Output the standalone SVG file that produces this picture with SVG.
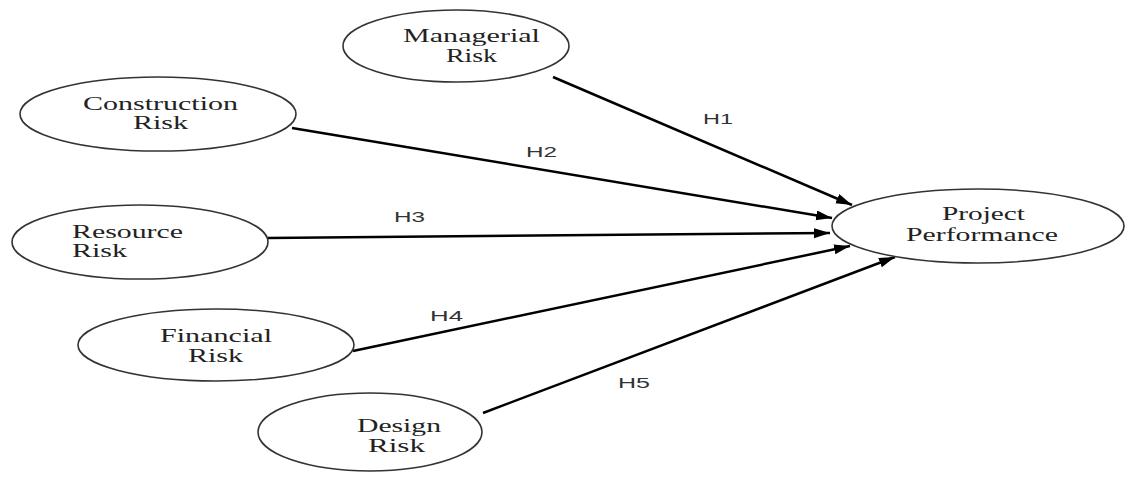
<svg xmlns="http://www.w3.org/2000/svg" width="1127" height="479" viewBox="0 0 1127 479">
<style>
.node ellipse{fill:#fff;stroke:#333;stroke-width:1.6}
.node text{font-family:"Liberation Serif","Times New Roman",serif;font-size:18px;fill:#222}
.edge{stroke:#000;stroke-width:2.5;fill:none;marker-end:url(#arr)}
.lbl{font-family:"Liberation Sans",Arial,sans-serif;font-size:14px;fill:#333}
</style>
<defs>
<marker id="arr" markerUnits="userSpaceOnUse" markerWidth="18" markerHeight="12" refX="16" refY="5" orient="auto">
<path d="M0,0 L16,5 L0,10 Z" fill="#000"/>
</marker>
</defs>
<rect width="1127" height="479" fill="#fff"/>
<g id="connectors">
<line class="edge" x1="553" y1="77" x2="852" y2="205"/>
<line class="edge" x1="292" y1="128" x2="832" y2="218"/>
<line class="edge" x1="268" y1="238" x2="830" y2="233"/>
<line class="edge" x1="353" y1="351" x2="850" y2="246"/>
<line class="edge" x1="483" y1="413" x2="895" y2="257"/>
<text class="lbl" x="703" y="124" textLength="30" lengthAdjust="spacingAndGlyphs">H1</text>
<text class="lbl" x="526" y="157" textLength="31" lengthAdjust="spacingAndGlyphs">H2</text>
<text class="lbl" x="394" y="222" textLength="31" lengthAdjust="spacingAndGlyphs">H3</text>
<text class="lbl" x="430" y="321" textLength="33" lengthAdjust="spacingAndGlyphs">H4</text>
<text class="lbl" x="618" y="388" textLength="32" lengthAdjust="spacingAndGlyphs">H5</text>
</g>
<g id="managerial" class="node">
<ellipse cx="456" cy="46" rx="113" ry="36"/>
<text x="403" y="42" textLength="137" lengthAdjust="spacingAndGlyphs">Managerial</text>
<text x="446" y="62" textLength="51" lengthAdjust="spacingAndGlyphs">Risk</text>
</g>
<g id="construction" class="node">
<ellipse cx="158" cy="114" rx="138" ry="37"/>
<text x="83" y="110" textLength="155" lengthAdjust="spacingAndGlyphs">Construction</text>
<text x="133" y="129" textLength="55" lengthAdjust="spacingAndGlyphs">Risk</text>
</g>
<g id="resource" class="node">
<ellipse cx="140" cy="242" rx="128" ry="37"/>
<text x="72" y="238" textLength="111" lengthAdjust="spacingAndGlyphs">Resource</text>
<text x="72" y="257" textLength="55" lengthAdjust="spacingAndGlyphs">Risk</text>
</g>
<g id="financial" class="node">
<ellipse cx="216" cy="345" rx="138" ry="36"/>
<text x="160" y="342" textLength="112" lengthAdjust="spacingAndGlyphs">Financial</text>
<text x="188" y="362" textLength="55" lengthAdjust="spacingAndGlyphs">Risk</text>
</g>
<g id="design" class="node">
<ellipse cx="370" cy="432" rx="112" ry="39"/>
<text x="357" y="432" textLength="84" lengthAdjust="spacingAndGlyphs">Design</text>
<text x="368" y="452" textLength="57" lengthAdjust="spacingAndGlyphs">Risk</text>
</g>
<g id="performance" class="node">
<ellipse cx="978" cy="226" rx="146" ry="37"/>
<text x="942" y="220" textLength="83" lengthAdjust="spacingAndGlyphs">Project</text>
<text x="906" y="241" textLength="152" lengthAdjust="spacingAndGlyphs">Performance</text>
</g>
</svg>
